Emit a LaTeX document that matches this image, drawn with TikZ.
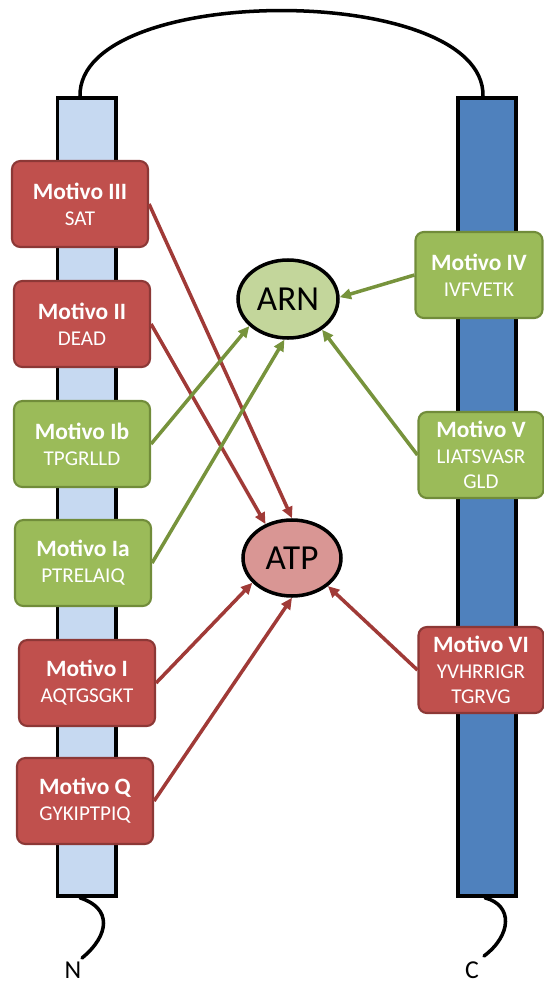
\documentclass[tikz,border=0pt]{standalone}
\usepackage{fontspec}
\setmainfont{Carlito}
\usepackage{tikz}
\usetikzlibrary{arrows.meta,positioning,calc,shapes.geometric}
\usepackage{xcolor}
\definecolor{redcol}{RGB}{192,80,77}
\definecolor{redline}{RGB}{140,56,54}
\definecolor{redarrow}{RGB}{160,58,55}
\definecolor{greencol}{RGB}{155,187,89}
\definecolor{greenline}{RGB}{113,140,58}
\definecolor{greenarrow}{RGB}{119,147,60}
\definecolor{lightblue}{RGB}{198,217,241}
\definecolor{darkblue}{RGB}{79,129,189}
\definecolor{arncol}{RGB}{195,214,155}
\definecolor{atpcol}{RGB}{217,150,148}
\newcommand{\motivo}[1]{{\fontsize{20}{22}\selectfont\bfseries Motivo #1}}

\begin{document}
\begin{tikzpicture}[
    >={Triangle[length=3.4mm, width=3.1mm]},
    bar/.style={rectangle, draw=black, line width=3.2pt, minimum width=1.75cm, minimum height=23.94cm, inner sep=0pt},
    motif/.style={rectangle, rounded corners=2.5mm, line width=1.8pt, text=white, align=center, minimum height=2.58cm, inner sep=2pt, font=\fontsize{18}{22}\selectfont},
    redmotif/.style={motif, fill=redcol, draw=redline},
    greenmotif/.style={motif, fill=greencol, draw=greenline},
    target/.style={ellipse, draw=black, line width=3pt, inner sep=0pt, font=\fontsize{30}{30}\selectfont},
    arrow/.style={->, line width=3pt},
    tail/.style={line width=3pt, line cap=round},
]
\useasboundingbox (0,0) rectangle (16.32,-29.61);

% helices
\node[bar, fill=lightblue] (barL) at (2.60,-14.91) {};
\node[bar, fill=darkblue, minimum width=1.74cm] (barR) at (14.61,-14.91) {};
\draw[tail] ($(barL.north)+(-0.2,0)$) .. controls (2.34,0.54) and (14.55,0.54) .. ($(barR.north)+(-0.12,0)$);

% ends
\node[font=\fontsize{22}{22}\selectfont] (nterm) at (2.19,-29.12) {N};
\node[font=\fontsize{22}{22}\selectfont] (cterm) at (14.16,-29.10) {C};
\coordinate (nend) at (2.46,-28.74);
\coordinate (cend) at (14.52,-28.68);
\draw[tail] ($(barL.south)+(-0.2,0)$) .. controls (3.36,-27.24) and (3.30,-28.05) .. (nend);
\draw[tail] ($(barR.south)+(-0.06,0)$) .. controls (15.39,-27.15) and (15.36,-28.05) .. (cend);

% ligands
\node[target, fill=arncol, minimum width=3.0cm, minimum height=2.34cm] (arn) at (8.64,-8.97) {ARN};
\node[target, fill=atpcol, minimum width=2.94cm, minimum height=2.28cm] (atp) at (8.76,-16.74) {ATP};

% motifs
\node[redmotif, minimum width=4.08cm] (m3) at (2.40,-6.12) {\motivo{III}\\SAT};
\node[redmotif, minimum width=4.08cm] (m2) at (2.46,-9.72) {\motivo{II}\\DEAD};
\node[greenmotif, minimum width=4.08cm] (mIb) at (2.46,-13.32) {\motivo{Ib}\\TPGRLLD};
\node[greenmotif, minimum width=4.08cm] (mIa) at (2.49,-16.89) {\motivo{Ia}\\PTRELAIQ};
\node[redmotif, minimum width=4.08cm] (m1) at (2.61,-20.49) {\motivo{I}\\AQTGSGKT};
\node[redmotif, minimum width=4.08cm] (mQ) at (2.55,-24.03) {\motivo{Q}\\GYKIPTPIQ};
\node[greenmotif, minimum width=3.81cm] (m4) at (14.37,-8.25) {\motivo{IV}\\IVFVETK};
\node[greenmotif, minimum width=3.75cm] (m5) at (14.43,-13.65) {\motivo{V}\\LIATSVASR\\GLD};
\node[redmotif, minimum width=3.75cm] (m6) at (14.43,-20.10) {\motivo{VI}\\YVHRRIGR\\TGRVG};

% links
\draw[arrow, redarrow] (m3.east) -- (atp.north);
\draw[arrow, redarrow] (m2.east) -- (atp.128);
\draw[arrow, greenarrow] (mIb.east) -- (arn.215);
\draw[arrow, greenarrow] (mIa.east) -- (arn.265);
\draw[arrow, greenarrow] (m4.west) -- (arn.2);
\draw[arrow, greenarrow] (m5.west) -- (arn.318);
\draw[arrow, redarrow] (m1.east) -- (atp.212);
\draw[arrow, redarrow] (mQ.east) -- (atp.270);
\draw[arrow, redarrow] (m6.west) -- (atp.322);
\end{tikzpicture}
\end{document}
